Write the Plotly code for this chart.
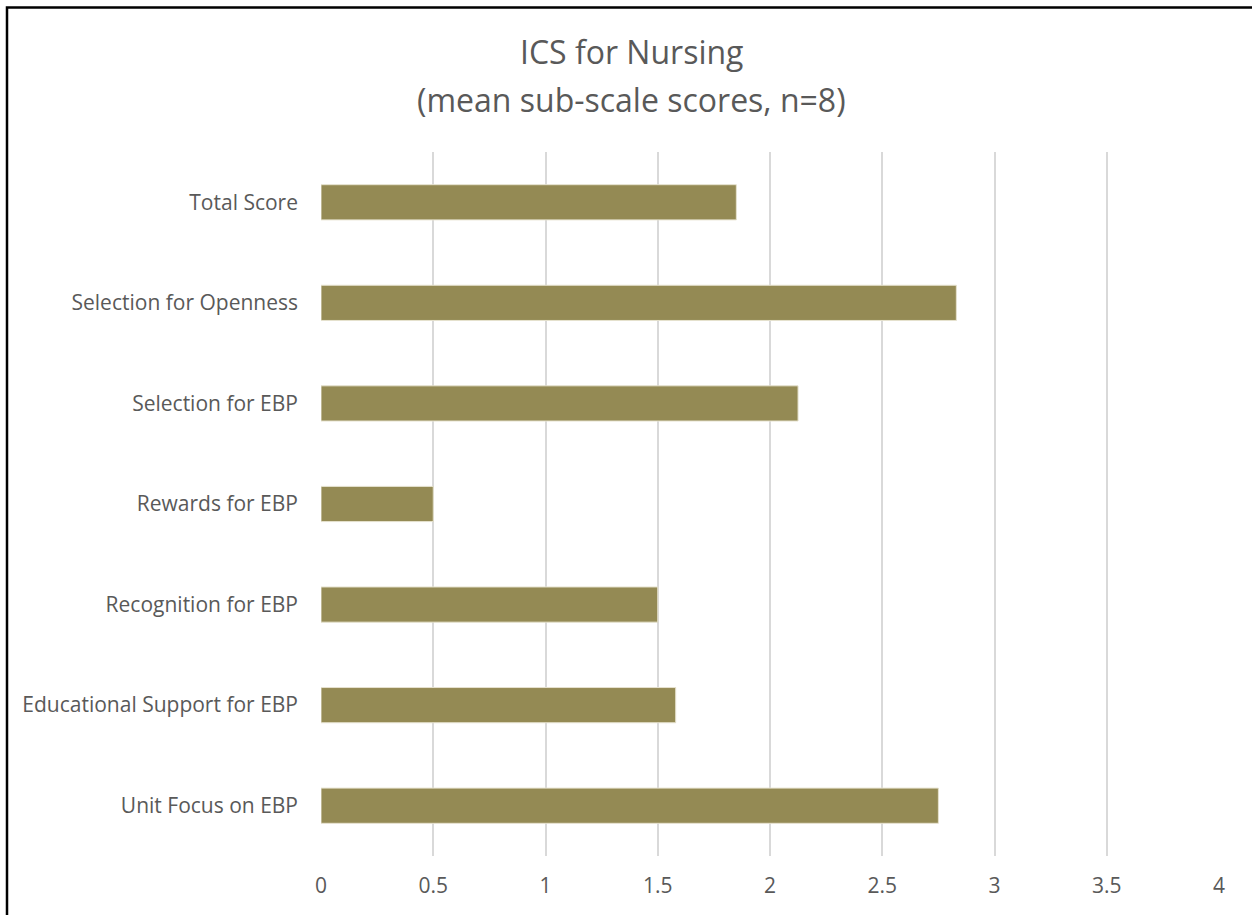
import plotly.graph_objects as go

# Sub-scale labels (top to bottom) and their mean scores
categories = [
    "Total Score",
    "Selection for Openness",
    "Selection for EBP",
    "Rewards for EBP",
    "Recognition for EBP",
    "Educational Support for EBP",
    "Unit Focus on EBP",
]
mean_scores = [1.85, 2.83, 2.125, 0.5, 1.5, 1.58, 2.75]

x_ticks = [0, 0.5, 1, 1.5, 2, 2.5, 3, 3.5, 4]
x_tick_labels = ["0", "0.5", "1", "1.5", "2", "2.5", "3", "3.5", "4"]

title_lines = ["ICS for Nursing", "(mean sub-scale scores, n=8)"]

W, H = 1252, 915
M_L, M_R, M_T, M_B = 321, 33, 152, 59
FONT = "'Open Sans', Lato, sans-serif"
TEXT_COLOR = "#595959"

fig = go.Figure(
    go.Bar(
        x=mean_scores,
        y=categories,
        orientation="h",
        width=0.35,
        marker=dict(color="#948A54", line=dict(color="#E6E2CF", width=1)),
        hoverinfo="x+y",
    )
)

# Pixel -> paper coordinate helpers
pw, ph = W - M_L - M_R, H - M_T - M_B
def px_x(p):
    return (p - M_L) / pw
def px_y(p):
    return (H - M_B - p) / ph

# Chart border
fig.add_shape(
    type="rect", xref="paper", yref="paper",
    x0=px_x(7), x1=px_x(1270), y0=px_y(7.5), y1=px_y(930),
    line=dict(color="black", width=2.5), fillcolor="rgba(0,0,0,0)",
    layer="above",
)

# Two-line title
for line, yc in zip(title_lines, [52, 100]):
    fig.add_annotation(
        text=line, xref="paper", yref="paper",
        x=px_x(631), y=px_y(yc), xanchor="center", yanchor="middle",
        showarrow=False,
        font=dict(family=FONT, size=32, color=TEXT_COLOR),
    )

fig.update_layout(
    width=W, height=H,
    margin=dict(l=M_L, r=M_R, t=M_T, b=M_B, pad=0),
    paper_bgcolor="white", plot_bgcolor="white",
    font=dict(family=FONT, color=TEXT_COLOR),
    showlegend=False,
)

fig.update_xaxes(
    range=[0, 4],
    tickvals=x_ticks, ticktext=x_tick_labels,
    showgrid=True, gridcolor="#D9D9D9", gridwidth=1.5,
    zeroline=False, showline=False, ticks="",
    tickfont=dict(family=FONT, size=21, color=TEXT_COLOR),
    ticklabelstandoff=15,
    fixedrange=True,
)
fig.update_yaxes(
    categoryorder="array", categoryarray=categories[::-1],
    showgrid=False, zeroline=False, showline=False, ticks="",
    tickfont=dict(family=FONT, size=21, color=TEXT_COLOR),
    ticklabelstandoff=22,
    fixedrange=True,
)

fig.write_html("out.html")
